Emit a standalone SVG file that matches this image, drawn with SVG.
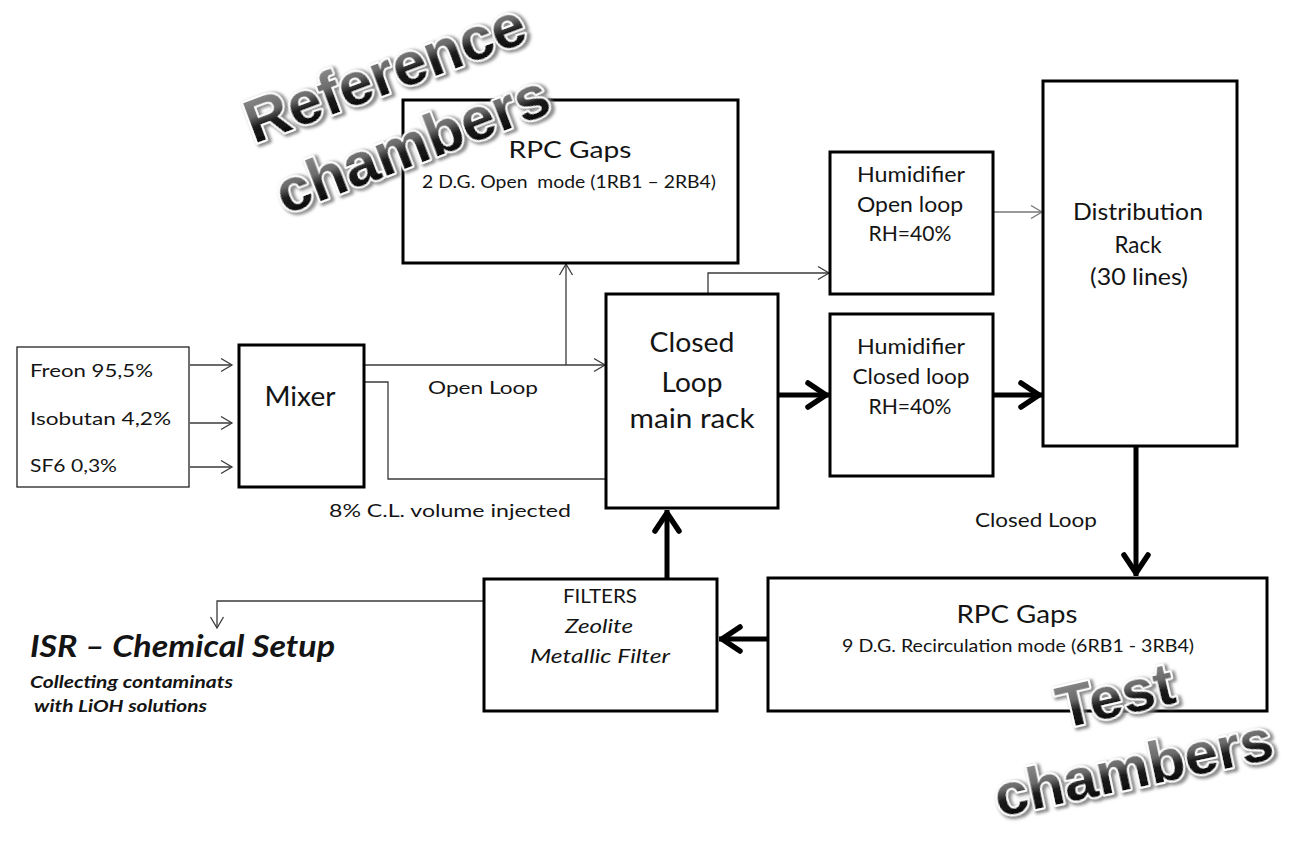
<svg xmlns="http://www.w3.org/2000/svg" width="1291" height="860" viewBox="0 0 1291 860">
<style>
.t{font-family:Lato,"Open Sans","Liberation Sans",sans-serif;fill:#141414;}
.m{text-anchor:middle;}
.i{font-style:italic;}
.bi{font-style:italic;font-weight:bold;}
.box{fill:#fff;stroke:#000;stroke-width:3;}
.thinbox{fill:#fff;stroke:#222;stroke-width:1.3;}
.thin{fill:none;stroke:#3a3a3a;stroke-width:1.3;}
.gray{fill:none;stroke:#777;stroke-width:1.3;}
.thick{fill:none;stroke:#000;stroke-width:5;}
.wa{font-family:"Liberation Sans",Arial,sans-serif;font-weight:bold;fill:url(#waGrad);stroke:#fff;stroke-width:4;paint-order:stroke;stroke-linejoin:round;filter:url(#waShadow);}
</style>
<defs>
<marker id="thinArrow" markerUnits="userSpaceOnUse" markerWidth="16" markerHeight="18" viewBox="-14 -9 16 18" refX="0" refY="0" orient="auto">
<path d="M-11,-6.5 L0,0 L-11,6.5" fill="none" stroke="#3a3a3a" stroke-width="1.3"/>
</marker>
<marker id="grayArrow" markerUnits="userSpaceOnUse" markerWidth="16" markerHeight="18" viewBox="-14 -9 16 18" refX="0" refY="0" orient="auto">
<path d="M-11,-6.5 L0,0 L-11,6.5" fill="none" stroke="#777" stroke-width="1.3"/>
</marker>
<marker id="thickArrow" markerUnits="userSpaceOnUse" markerWidth="32" markerHeight="36" viewBox="-28 -18 32 36" refX="0" refY="0" orient="auto">
<path d="M-21,-12 L-3,0 L-21,12" fill="none" stroke="#000" stroke-width="5.5" stroke-linecap="round" stroke-linejoin="round"/>
</marker>
<linearGradient id="waGrad" x1="0" y1="0" x2="0" y2="1">
<stop offset="0" stop-color="#9a9a9a"/>
<stop offset="0.42" stop-color="#6a6a6a"/>
<stop offset="0.58" stop-color="#1c1c1c"/>
<stop offset="1" stop-color="#000"/>
</linearGradient>
<filter id="waShadow" x="-15%" y="-50%" width="130%" height="200%">
<feMorphology in="SourceAlpha" operator="dilate" radius="1" result="d"/>
<feGaussianBlur in="d" stdDeviation="1.6" result="b"/>
<feOffset in="b" dx="1.5" dy="1.5" result="o"/>
<feFlood flood-color="#777" flood-opacity="0.85"/>
<feComposite in2="o" operator="in" result="s"/>
<feMerge><feMergeNode in="s"/><feMergeNode in="SourceGraphic"/></feMerge>
</filter>
</defs>
<rect width="1291" height="860" fill="#fff"/>

<g id="connectors">
<line class="thin" x1="190" y1="365" x2="232" y2="365" marker-end="url(#thinArrow)"/>
<line class="thin" x1="190" y1="423" x2="232" y2="423" marker-end="url(#thinArrow)"/>
<line class="thin" x1="190" y1="467" x2="232" y2="467" marker-end="url(#thinArrow)"/>
<line class="thin" x1="364" y1="365" x2="605" y2="365" marker-end="url(#thinArrow)"/>
<line class="thin" x1="566" y1="365" x2="566" y2="264" marker-end="url(#thinArrow)"/>
<polyline class="thin" points="364,382 388,382 388,479 606,479"/>
<polyline class="thin" points="708,293 708,273 829,273" marker-end="url(#thinArrow)"/>
<line class="gray" x1="993" y1="212" x2="1042" y2="212" marker-end="url(#grayArrow)"/>
<line class="thick" x1="779" y1="395" x2="829" y2="395" marker-end="url(#thickArrow)"/>
<line class="thick" x1="993" y1="395" x2="1042" y2="395" marker-end="url(#thickArrow)"/>
<line class="thick" x1="1136" y1="446" x2="1136" y2="576" marker-end="url(#thickArrow)"/>
<line class="thick" x1="768" y1="639" x2="719" y2="639" marker-end="url(#thickArrow)"/>
<line class="thick" x1="667" y1="579" x2="667" y2="510" marker-end="url(#thickArrow)"/>
<polyline class="thin" points="484,601 217,601 217,628" marker-end="url(#thinArrow)"/>
<text class="t" x="428" y="394" font-size="18" textLength="110" lengthAdjust="spacingAndGlyphs">Open Loop</text>
<text class="t" x="329" y="517" font-size="18" textLength="242" lengthAdjust="spacingAndGlyphs">8% C.L. volume injected</text>
<text class="t" x="975" y="527" font-size="19" textLength="122" lengthAdjust="spacingAndGlyphs">Closed Loop</text>
</g>

<g id="gas-supply">
<rect class="thinbox" x="17" y="347" width="172" height="140"/>
<text class="t" x="30" y="377" font-size="18" textLength="123" lengthAdjust="spacingAndGlyphs">Freon 95,5%</text>
<text class="t" x="30" y="425" font-size="18" textLength="141" lengthAdjust="spacingAndGlyphs">Isobutan 4,2%</text>
<text class="t" x="30" y="472" font-size="18" textLength="87" lengthAdjust="spacingAndGlyphs">SF6 0,3%</text>
</g>

<g id="mixer">
<rect class="box" x="239" y="345" width="125" height="142"/>
<text class="t m" x="300" y="406" font-size="26" textLength="71" lengthAdjust="spacingAndGlyphs">Mixer</text>
</g>

<g id="rpc-reference">
<rect class="box" x="403" y="100" width="335" height="163"/>
<text class="t m" x="570" y="158" font-size="24" textLength="123" lengthAdjust="spacingAndGlyphs">RPC Gaps</text>
<text class="t m" x="569" y="188" font-size="17.5" textLength="294" lengthAdjust="spacingAndGlyphs" xml:space="preserve">2 D.G. Open  mode (1RB1 – 2RB4)</text>
</g>

<g id="closed-loop-rack">
<rect class="box" x="606" y="294" width="172" height="214"/>
<text class="t m" x="692" y="352" font-size="26" textLength="85" lengthAdjust="spacingAndGlyphs">Closed</text>
<text class="t m" x="692" y="392" font-size="26" textLength="61" lengthAdjust="spacingAndGlyphs">Loop</text>
<text class="t m" x="692" y="428" font-size="26" textLength="125" lengthAdjust="spacingAndGlyphs">main rack</text>
</g>

<g id="humidifier-open">
<rect class="box" x="830" y="152" width="163" height="142"/>
<text class="t m" x="911" y="182" font-size="21" textLength="108" lengthAdjust="spacingAndGlyphs">Humidifier</text>
<text class="t m" x="910" y="212" font-size="21" textLength="106" lengthAdjust="spacingAndGlyphs">Open loop</text>
<text class="t m" x="910" y="241" font-size="21" textLength="83" lengthAdjust="spacingAndGlyphs">RH=40%</text>
</g>

<g id="humidifier-closed">
<rect class="box" x="830" y="314" width="163" height="162"/>
<text class="t m" x="911" y="354" font-size="21" textLength="108" lengthAdjust="spacingAndGlyphs">Humidifier</text>
<text class="t m" x="911" y="384" font-size="21" textLength="117" lengthAdjust="spacingAndGlyphs">Closed loop</text>
<text class="t m" x="910" y="414" font-size="21" textLength="83" lengthAdjust="spacingAndGlyphs">RH=40%</text>
</g>

<g id="distribution-rack">
<rect class="box" x="1043" y="81" width="194" height="365"/>
<text class="t m" x="1138" y="220" font-size="23.5" textLength="130" lengthAdjust="spacingAndGlyphs">Distribution</text>
<text class="t m" x="1138" y="253" font-size="23.5" textLength="47" lengthAdjust="spacingAndGlyphs">Rack</text>
<text class="t m" x="1139" y="285" font-size="23.5" textLength="98" lengthAdjust="spacingAndGlyphs">(30 lines)</text>
</g>

<g id="filters">
<rect class="box" x="484" y="579" width="233" height="132" stroke-width="2.6"/>
<text class="t m" x="600" y="603" font-size="19" textLength="74" lengthAdjust="spacingAndGlyphs">FILTERS</text>
<text class="t m i" x="599" y="633" font-size="19" textLength="68" lengthAdjust="spacingAndGlyphs">Zeolite</text>
<text class="t m i" x="600" y="663" font-size="19" textLength="140" lengthAdjust="spacingAndGlyphs">Metallic Filter</text>
</g>

<g id="rpc-test">
<rect class="box" x="768" y="578" width="499" height="133"/>
<text class="t m" x="1017" y="623" font-size="25" textLength="121" lengthAdjust="spacingAndGlyphs">RPC Gaps</text>
<text class="t m" x="1018" y="652" font-size="17.5" textLength="352" lengthAdjust="spacingAndGlyphs">9 D.G. Recirculation mode (6RB1 - 3RB4)</text>
</g>

<g id="isr-setup">
<text class="t bi" x="30" y="657" font-size="30" textLength="305" lengthAdjust="spacingAndGlyphs">ISR – Chemical Setup</text>
<text class="t bi" x="30" y="688" font-size="17.5" textLength="203" lengthAdjust="spacingAndGlyphs">Collecting contaminats</text>
<text class="t bi" x="34" y="712" font-size="17.5" textLength="173" lengthAdjust="spacingAndGlyphs">with LiOH solutions</text>
</g>

<g id="wordart">
<text class="wa" font-size="61" transform="translate(254,144) rotate(-20.5)">Reference</text>
<text class="wa" font-size="61" transform="translate(285,215) rotate(-21)">chambers</text>
<text class="wa" font-size="60" transform="translate(1062,729) rotate(-13)">Test</text>
<text class="wa" font-size="60" transform="translate(999,817) rotate(-12)">chambers</text>
</g>
</svg>
